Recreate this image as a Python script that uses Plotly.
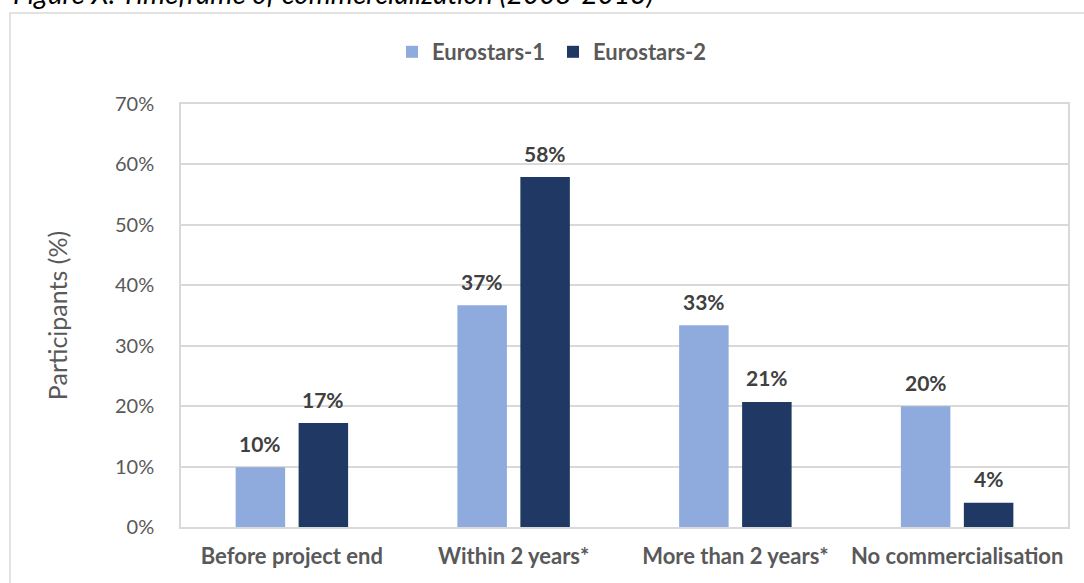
import plotly.graph_objects as go

categories = ["Before project end", "Within 2 years*", "More than 2 years*", "No commercialisation"]
eurostars1 = [0.099, 0.367, 0.334, 0.200]
eurostars2 = [0.172, 0.579, 0.207, 0.040]
series_names = ["Eurostars-1", "Eurostars-2"]
colors = ["#8FAADC", "#203864"]
y_ticks = [0, 0.1, 0.2, 0.3, 0.4, 0.5, 0.6, 0.7]

FONT = "Lato"
W, H = 1084, 583
ml, mr, mt, mb = 181, 16, 104, 56
pw, ph = W - ml - mr, H - mt - mb

def px_x(x):
    return (x - ml) / pw

def px_y(y):
    return (H - mb - y) / ph

fig = go.Figure()
label_shift = [-31.5, 31.5]
annotations = []
for i, (name, vals, col) in enumerate(zip(series_names, [eurostars1, eurostars2], colors)):
    fig.add_trace(go.Bar(
        x=categories, y=vals, name=name, marker=dict(color=col, line=dict(width=0)),
    ))
    for cat, v in zip(categories, vals):
        annotations.append(dict(
            x=cat, y=v, xref="x", yref="y", text=f"{v:.0%}", showarrow=False,
            xanchor="center", yanchor="middle", xshift=label_shift[i], yshift=24,
            font=dict(family=FONT, size=21, color="#404040", weight="bold"),
        ))

annotations.append(dict(text="<i>Figure X: Timeframe of commercialization (2008-2013)</i>",
                        xref="paper", yref="paper", x=px_x(11), y=px_y(12),
                        xanchor="left", yanchor="bottom", showarrow=False,
                        font=dict(family=FONT, size=28, color="#000000")))

fig.update_layout(
    width=W, height=H,
    margin=dict(l=ml, r=mr, t=mt, b=mb, autoexpand=False),
    paper_bgcolor="white", plot_bgcolor="white",
    barmode="group", bargap=0.432, bargroupgap=0.214,
    font=dict(family=FONT, color="#595959"),
    legend=dict(orientation="h", xref="container", yref="container",
                x=392 / W, y=1 - 52 / H, xanchor="left", yanchor="middle",
                font=dict(family=FONT, size=22, color="#595959", weight="bold"),
                entrywidth=116, entrywidthmode="pixels", itemwidth=30),
    xaxis=dict(showline=True, linecolor="#D9D9D9", linewidth=1.5, mirror=True,
               tickfont=dict(family=FONT, size=22, color="#595959", weight="bold"),
               ticks="", showgrid=False, automargin=False, ticklabelstandoff=9),
    yaxis=dict(range=[0, 0.7], tickvals=y_ticks, tickformat=".0%",
               showline=True, linecolor="#D9D9D9", linewidth=1.5, mirror=True,
               gridcolor="#D9D9D9", gridwidth=1.5, zeroline=False,
               tickfont=dict(family=FONT, size=20, color="#595959"),
               ticks="", ticklen=0, automargin=False, ticklabelstandoff=21,
               title=dict(text="Participants (%)", font=dict(family=FONT, size=25, color="#595959"), standoff=40)),
    shapes=[dict(type="rect", xref="paper", yref="paper",
                 x0=px_x(10), x1=px_x(1100), y0=px_y(620), y1=px_y(13),
                 line=dict(color="#D9D9D9", width=1.5), layer="below")],
    annotations=annotations,
)

fig.write_html("out.html", config={"displayModeBar": False},
               post_script="document.body.style.margin='0';document.body.style.padding='0';")
